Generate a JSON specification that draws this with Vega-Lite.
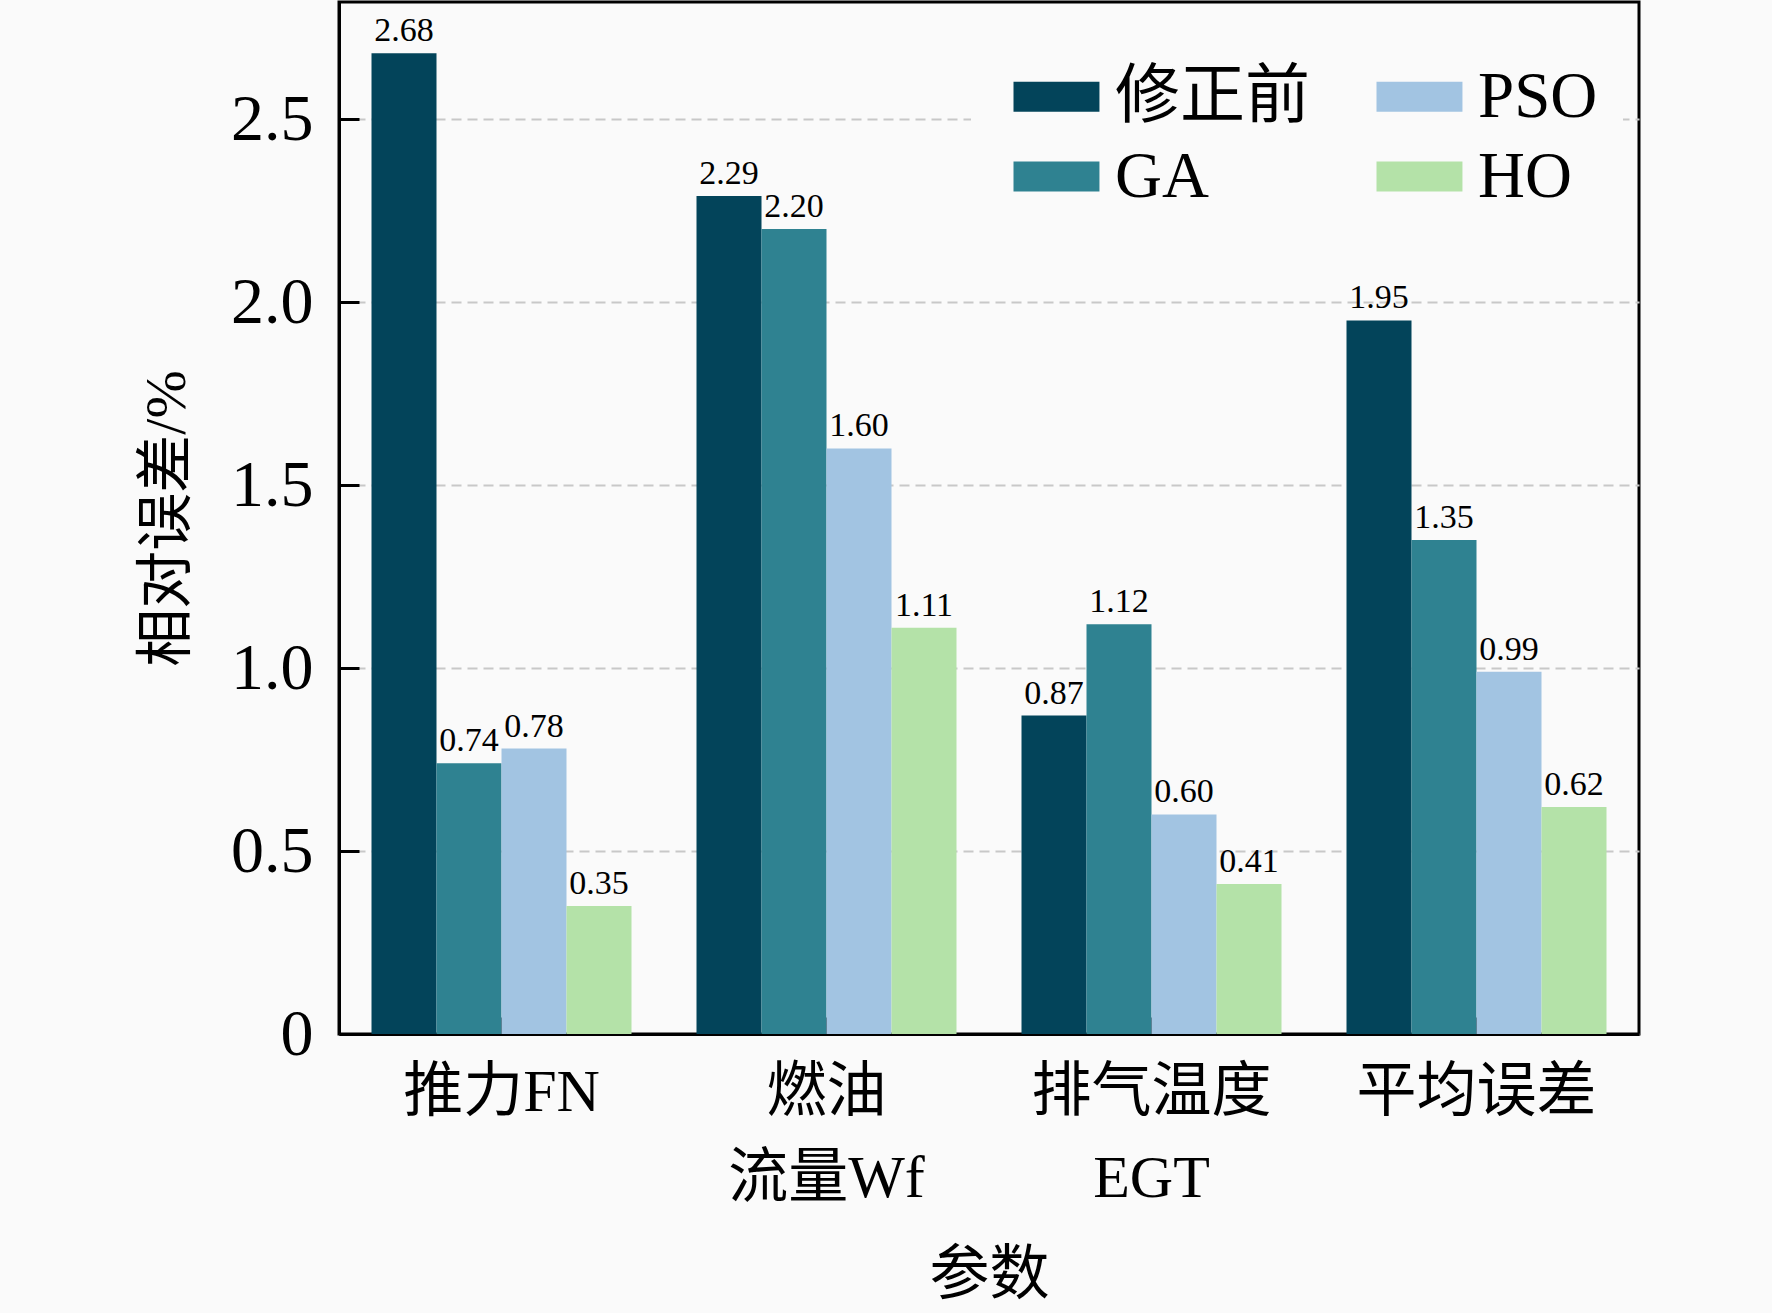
{
  "$schema": "https://vega.github.io/schema/vega-lite/v6.json",
  "width": 1300,
  "height": 1032,
  "autosize": {"type": "none"},
  "padding": {"left": 339, "top": 2, "right": 133, "bottom": 279},
  "background": "#fafafa",
  "config": {
    "view": {"stroke": "black", "strokeWidth": 3},
    "font": "Liberation Serif",
    "axis": {
      "labelFont": "Liberation Serif, Noto Sans CJK SC",
      "titleFont": "Liberation Serif, Noto Sans CJK SC",
      "labelColor": "black",
      "titleColor": "black",
      "titleFontWeight": "normal",
      "labelLimit": 0,
      "domainColor": "black",
      "domainWidth": 3,
      "tickColor": "black",
      "tickWidth": 3,
      "zindex": 1
    },
    "legend": {
      "labelFont": "Liberation Serif, Noto Sans CJK SC",
      "labelLimit": 0
    }
  },
  "data": {
    "values": [
      {"param": "推力FN", "method": "修正前", "value": 2.68},
      {"param": "推力FN", "method": "GA", "value": 0.74},
      {"param": "推力FN", "method": "PSO", "value": 0.78},
      {"param": "推力FN", "method": "HO", "value": 0.35},
      {"param": "燃油流量Wf", "method": "修正前", "value": 2.29},
      {"param": "燃油流量Wf", "method": "GA", "value": 2.20},
      {"param": "燃油流量Wf", "method": "PSO", "value": 1.60},
      {"param": "燃油流量Wf", "method": "HO", "value": 1.11},
      {"param": "排气温度EGT", "method": "修正前", "value": 0.87},
      {"param": "排气温度EGT", "method": "GA", "value": 1.12},
      {"param": "排气温度EGT", "method": "PSO", "value": 0.60},
      {"param": "排气温度EGT", "method": "HO", "value": 0.41},
      {"param": "平均误差", "method": "修正前", "value": 1.95},
      {"param": "平均误差", "method": "GA", "value": 1.35},
      {"param": "平均误差", "method": "PSO", "value": 0.99},
      {"param": "平均误差", "method": "HO", "value": 0.62}
    ]
  },
  "encoding": {
    "x": {
      "field": "param",
      "type": "nominal",
      "sort": ["推力FN", "燃油流量Wf", "排气温度EGT", "平均误差"],
      "scale": {"paddingInner": 0.2, "paddingOuter": 0.1},
      "title": "参数",
      "axis": {
        "labelAngle": 0,
        "labelFontSize": 60,
        "labelLineHeight": 86,
        "labelPadding": 46,
        "labelExpr": "datum.label == '燃油流量Wf' ? ['燃油', '流量Wf'] : datum.label == '排气温度EGT' ? ['排气温度', 'EGT'] : datum.label",
        "tickSize": -17,
        "titleFontSize": 60,
        "titlePadding": 38,
        "grid": false
      }
    },
    "xOffset": {
      "field": "method",
      "type": "nominal",
      "sort": ["修正前", "GA", "PSO", "HO"],
      "scale": {"paddingInner": 0, "paddingOuter": 0}
    },
    "y": {
      "field": "value",
      "type": "quantitative",
      "scale": {"domain": [0, 2.82], "nice": false},
      "title": "相对误差/%",
      "axis": {
        "values": [0, 0.5, 1, 1.5, 2, 2.5],
        "labelExpr": "datum.value == 0 ? '0' : format(datum.value, '.1f')",
        "labelFontSize": 66,
        "labelPadding": 46,
        "tickSize": -20,
        "titleFontSize": 58,
        "titlePadding": 34,
        "grid": true,
        "gridColor": "#c8c8c8",
        "gridDash": [10, 6],
        "gridWidth": 2
      }
    }
  },
  "layer": [
    {
      "mark": {"type": "bar"},
      "encoding": {
        "color": {
          "field": "method",
          "type": "nominal",
          "scale": {
            "domain": ["修正前", "GA", "PSO", "HO"],
            "range": ["#03445a", "#2f8291", "#a2c4e2", "#b4e2a8"]
          },
          "legend": {
            "title": null,
            "orient": "none",
            "legendX": 632,
            "legendY": 37,
            "columns": 2,
            "columnPadding": 48,
            "rowPadding": 14,
            "padding": 25,
            "fillColor": "#fafafa",
            "zindex": 2,
            "symbolType": "M-1,-1H4.73V1H-1Z",
            "symbolSize": 900,
            "symbolStrokeWidth": 0,
            "symbolOpacity": 1,
            "labelFontSize": 65,
            "labelOffset": 54,
            "labelColor": "black"
          }
        }
      }
    },
    {
      "mark": {
        "type": "text",
        "baseline": "bottom",
        "dy": -5,
        "fontSize": 34,
        "font": "Liberation Serif",
        "color": "black"
      },
      "encoding": {
        "text": {"field": "value", "type": "quantitative", "format": ".2f"}
      }
    }
  ]
}
